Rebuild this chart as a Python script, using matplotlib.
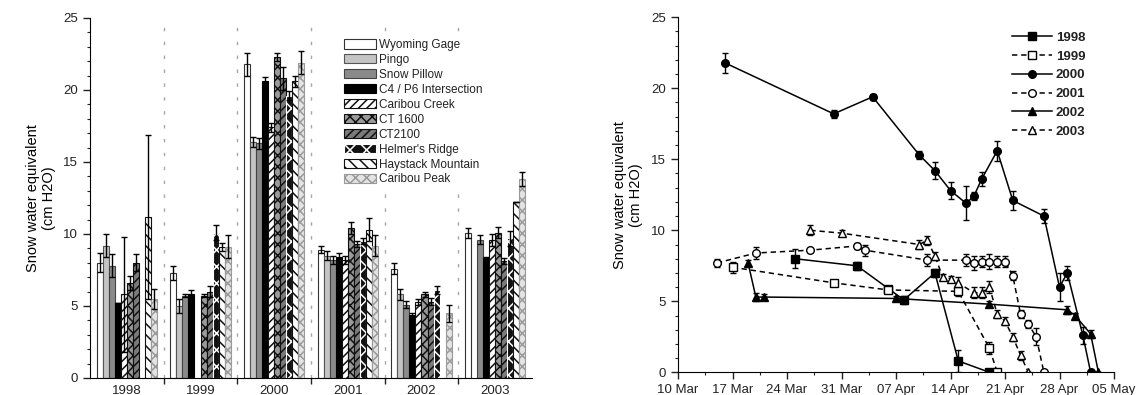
import numpy as np
import pandas as pd
import matplotlib as mpl
mpl.use('Agg')
import matplotlib.pyplot as plt
import matplotlib.dates as mdates
from matplotlib.ticker import MultipleLocator, FixedLocator, NullFormatter

mpl.rcParams['font.family'] = ['Liberation Sans', 'DejaVu Sans']
mpl.rcParams['font.size'] = 9
mpl.rcParams['hatch.linewidth'] = 1.1
mpl.rcParams['text.color'] = '#222222'
mpl.rcParams['xtick.color'] = '#222222'
mpl.rcParams['ytick.color'] = '#222222'

# ---- peak SWE by site and year (NaN = no survey) ----
years = ['1998', '1999', '2000', '2001', '2002', '2003']
nan = np.nan

wyoming_gage      = [8.0, 7.3, 21.8, 8.9, 7.6, 10.1]
wyoming_gage_err  = [0.65, 0.5, 0.8, 0.25, 0.4, 0.35]
pingo             = [9.2, 5.0, 16.4, 8.5, 5.8, nan]
pingo_err         = [0.8, 0.5, 0.35, 0.3, 0.35, nan]
snow_pillow       = [7.8, 5.7, 16.3, 8.2, 5.1, 9.6]
snow_pillow_err   = [0.8, 0.1, 0.4, 0.3, 0.25, 0.3]
c4_p6             = [5.2, 5.85, 20.6, 8.4, 4.4, 8.3]
c4_p6_err         = [0.0, 0.25, 0.3, 0.25, 0.1, 0.1]
caribou_creek     = [5.8, nan, 17.4, 8.2, 5.3, 9.6]
caribou_creek_err = [4.0, nan, 0.3, 0.3, 0.2, 0.4]
ct1600            = [6.6, 5.7, 22.3, 10.4, 5.8, 10.1]
ct1600_err        = [0.5, 0.1, 0.3, 0.4, 0.2, 0.4]
ct2100            = [8.0, 6.0, 20.8, 9.3, 5.3, 8.1]
ct2100_err        = [0.6, 0.4, 0.8, 0.2, 0.25, 0.2]
helmers_ridge     = [nan, 10.1, 19.6, 9.5, 6.1, 9.7]
helmers_ridge_err = [nan, 0.5, 0.3, 0.2, 0.3, 0.5]
haystack_mtn      = [11.2, 9.1, 20.6, 10.3, nan, 12.2]
haystack_mtn_err  = [5.7, 0.3, 0.4, 0.8, nan, 0.0]
caribou_peak      = [5.5, 9.1, 21.9, 9.2, 4.5, 13.8]
caribou_peak_err  = [0.7, 0.8, 0.8, 0.7, 0.6, 0.5]

site_names = ['Wyoming Gage', 'Pingo', 'Snow Pillow', 'C4 / P6 Intersection',
              'Caribou Creek', 'CT 1600', 'CT2100', "Helmer's Ridge",
              'Haystack Mountain', 'Caribou Peak']
site_values = [wyoming_gage, pingo, snow_pillow, c4_p6, caribou_creek,
               ct1600, ct2100, helmers_ridge, haystack_mtn, caribou_peak]
site_errors = [wyoming_gage_err, pingo_err, snow_pillow_err, c4_p6_err,
               caribou_creek_err, ct1600_err, ct2100_err, helmers_ridge_err,
               haystack_mtn_err, caribou_peak_err]

# face, edge/hatch colour, hatch for each site
site_styles = [
    ('white',   '#333333', None),
    ('#c4c4c4', '#555555', None),
    ('#8a8a8a', '#444444', None),
    ('black',   'black',   None),
    ('white',   '#111111', '////'),
    ('#9a9a9a', '#111111', 'xxx'),
    ('#7a7a7a', '#111111', '////'),
    ('#111111', 'white',   'xx'),
    ('white',   '#111111', '\\\\\\'),
    ('#e4e4e4', '#9a9a9a', 'xxx'),
]

# ---- spring melt surveys (month-day, SWE, error) ----
dates_1998 = ['03-25', '04-02', '04-06', '04-08', '04-12', '04-15', '04-19']
swe_1998   = [8.0, 7.5, 5.9, 5.1, 7.0, 0.8, 0.0]
err_1998   = [0.65, 0.3, 0.2, 0.3, 0.3, 0.75, 0.0]

dates_1999 = ['03-17', '03-30', '04-06', '04-15', '04-19', '04-20']
swe_1999   = [7.4, 6.3, 5.8, 5.7, 1.7, 0.0]
err_1999   = [0.4, 0.2, 0.2, 0.3, 0.4, 0.0]

dates_2000 = ['03-16', '03-30', '04-04', '04-10', '04-12', '04-14', '04-16',
              '04-17', '04-18', '04-20', '04-22', '04-26', '04-28', '04-29',
              '05-01', '05-02']
swe_2000   = [21.8, 18.2, 19.4, 15.3, 14.2, 12.8, 11.9, 12.4, 13.6, 15.6,
              12.1, 11.0, 6.0, 7.0, 2.6, 0.0]
err_2000   = [0.7, 0.3, 0.2, 0.3, 0.6, 0.6, 1.2, 0.3, 0.5, 0.7, 0.7, 0.5,
              1.0, 0.5, 0.6, 0.0]

dates_2001 = ['03-15', '03-20', '03-27', '04-02', '04-03', '04-11', '04-16',
              '04-17', '04-18', '04-19', '04-20', '04-21', '04-22', '04-23',
              '04-24', '04-25', '04-26']
swe_2001   = [7.7, 8.4, 8.6, 8.9, 8.6, 7.9, 7.9, 7.7, 7.8, 7.8, 7.8, 7.8,
              6.8, 4.1, 3.4, 2.5, 0.0]
err_2001   = [0.3, 0.4, 0.1, 0.2, 0.4, 0.4, 0.4, 0.5, 0.4, 0.5, 0.4, 0.4,
              0.3, 0.3, 0.3, 0.6, 0.0]

dates_2002 = ['03-19', '03-20', '03-21', '04-07', '04-19', '04-29', '04-30',
              '05-02', '05-03']
swe_2002   = [7.7, 5.3, 5.3, 5.2, 4.8, 4.4, 4.0, 2.7, 0.0]
err_2002   = [0.2, 0.3, 0.2, 0.2, 0.2, 0.3, 0.2, 0.3, 0.0]

dates_2003 = ['03-27', '03-31', '04-10', '04-11', '04-12', '04-13', '04-14',
              '04-15', '04-17', '04-18', '04-19', '04-20', '04-21', '04-22',
              '04-23', '04-24']
swe_2003   = [10.0, 9.8, 9.0, 9.3, 8.2, 6.7, 6.6, 6.3, 5.6, 5.6, 6.0, 4.1,
              3.6, 2.5, 1.2, 0.0]
err_2003   = [0.35, 0.2, 0.3, 0.3, 0.3, 0.2, 0.2, 0.4, 0.4, 0.4, 0.4, 0.3,
              0.3, 0.3, 0.3, 0.0]

melt_series = [
    ('1998', dates_1998, swe_1998, err_1998, 's', 'black', '-'),
    ('1999', dates_1999, swe_1999, err_1999, 's', 'white', '--'),
    ('2000', dates_2000, swe_2000, err_2000, 'o', 'black', '-'),
    ('2001', dates_2001, swe_2001, err_2001, 'o', 'white', '--'),
    ('2002', dates_2002, swe_2002, err_2002, '^', 'black', '-'),
    ('2003', dates_2003, swe_2003, err_2003, '^', 'white', '--'),
]

fig = plt.figure(figsize=(11.36, 3.95), dpi=100)

# ---------------- left: bar chart by year ----------------
ax1 = fig.add_axes([90 / 1136, 17 / 395, 442 / 1136, 360 / 395])
x = np.arange(len(years))
width = 0.0815
for i, (name, vals, errs, (fc, ec, hatch)) in enumerate(
        zip(site_names, site_values, site_errors, site_styles)):
    offs = (i - 4.5) * width
    ax1.bar(x + offs, vals, width, yerr=errs, color=fc, edgecolor=ec,
            hatch=hatch, linewidth=0.8, label=name, zorder=2,
            error_kw=dict(ecolor='black', elinewidth=1.0, capsize=2.5,
                          capthick=1.0, zorder=3))

for b in np.arange(0.5, len(years) - 0.5):
    ax1.axvline(b, color='#a8a8a8', lw=1.0, ls=(0, (2.5, 7.5)), zorder=1)

ax1.set_xlim(-0.5, len(years) - 0.5)
ax1.set_ylim(0, 25)
ax1.yaxis.set_major_locator(MultipleLocator(5))
ax1.yaxis.set_minor_locator(MultipleLocator(1))
ax1.xaxis.set_major_locator(FixedLocator(np.arange(0.5, len(years) - 0.5)))
ax1.xaxis.set_major_formatter(NullFormatter())
ax1.xaxis.set_minor_locator(FixedLocator(x))
ax1.set_xticklabels(years, minor=True)
ax1.tick_params(axis='x', which='major', direction='out', length=4, width=1)
ax1.tick_params(axis='x', which='minor', length=0, pad=5, labelsize=9.5)
ax1.tick_params(axis='y', which='major', direction='out', length=5, width=1,
                labelsize=9.5)
ax1.tick_params(axis='y', which='minor', direction='out', length=2.5, width=0.8)
for s in ['top', 'right']:
    ax1.spines[s].set_visible(False)
ax1.set_ylabel('Snow water equivalent\n(cm H2O)', fontsize=10.5, labelpad=5)

leg1 = ax1.legend(loc='upper left', bbox_to_anchor=(0.565, 0.955),
                  fontsize=8.5, frameon=True, fancybox=False,
                  handlelength=2.7, handleheight=0.85, handletextpad=0.2,
                  labelspacing=0.25, borderpad=0.4, borderaxespad=0)
leg1.get_frame().set_facecolor('white')
leg1.get_frame().set_edgecolor('none')
leg1.get_frame().set_alpha(1.0)
leg1.set_zorder(5)

# ---------------- right: melt curves ----------------
ax2 = fig.add_axes([678 / 1136, 22.7 / 395, 436 / 1136, 355 / 395])
handles = []
for label, dts, vals, errs, mk, mfc, ls in melt_series:
    t = pd.to_datetime(['2000-' + d for d in dts])
    eb = ax2.errorbar(t, vals, yerr=errs, color='black', lw=1.1, ls=ls,
                      dashes=(3.5, 2.5) if ls == '--' else (None, None),
                      marker=mk, ms=5.5, mfc=mfc, mec='black', mew=1.0,
                      ecolor='black', elinewidth=1.0, capsize=2.5,
                      capthick=1.0, label=label)
    handles.append(eb.lines[0])

ax2.set_xlim(pd.Timestamp('2000-03-10'), pd.Timestamp('2000-05-05'))
ax2.set_ylim(0, 25)
ax2.xaxis.set_major_locator(FixedLocator(mdates.date2num(
    pd.date_range('2000-03-10', '2000-05-05', freq='7D'))))
ax2.xaxis.set_minor_locator(FixedLocator(mdates.date2num(
    pd.date_range('2000-03-10', '2000-05-05', freq='84h'))))
ax2.xaxis.set_major_formatter(mdates.DateFormatter('%d %b'))
ax2.yaxis.set_major_locator(MultipleLocator(5))
ax2.yaxis.set_minor_locator(MultipleLocator(1))
ax2.tick_params(which='major', direction='out', length=5, width=1,
                labelsize=9.5)
ax2.tick_params(which='minor', direction='out', length=2.5, width=0.8)
for s in ['top', 'right']:
    ax2.spines[s].set_visible(False)
ax2.set_ylabel('Snow water equivalent\n(cm H2O)', fontsize=10.5, labelpad=6)

leg2 = ax2.legend(handles, [s[0] for s in melt_series], loc='upper left',
                  bbox_to_anchor=(0.755, 0.975), frameon=False,
                  handlelength=3.0, handletextpad=0.3, labelspacing=0.5,
                  borderaxespad=0, prop={'weight': 'bold', 'size': 9.5})

fig.savefig('out.png', dpi=100)
